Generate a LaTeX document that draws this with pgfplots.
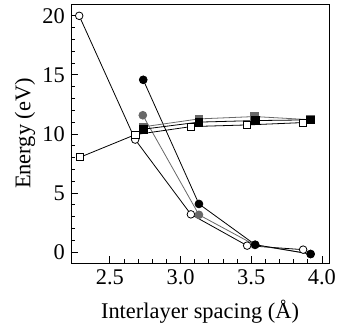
\documentclass[border=0pt]{standalone}
\usepackage{fontspec}
\setmainfont{Liberation Serif}
\usepackage{pgfplots}
\pgfplotsset{compat=1.18}
\definecolor{mgray}{HTML}{686868}
\begin{document}
\fontsize{22.5}{27}\selectfont
\begin{tikzpicture}
\begin{axis}[
  name=ax,
  scale only axis, width=258bp, height=259bp,
  xmin=2.225, xmax=4.05, ymin=-0.93, ymax=21,
  xtick={2.5,3.0,3.5,4.0}, ytick={0,5,10,15,20},
  xticklabels={2.5,3.0,3.5,4.0},
  minor x tick num=4, minor y tick num=4,
  xtick pos=bottom, ytick pos=left, tick align=inside,
  major tick length=7bp, minor tick length=4.5bp,
  tick style={black, line width=0.8pt},
  axis line style={line width=0.9pt},
  /pgf/number format/assume math mode=true,
  ticklabel style={font=\fontsize{22.5}{27}\selectfont},
  yticklabel style={inner sep=2pt, xshift=-4bp},
  xticklabel style={inner sep=2pt, yshift=-4bp},
  label style={font=\fontsize{22.5}{27}\selectfont},
  xlabel={Interlayer spacing (Å)},
  ylabel={Energy (eV)},
  xlabel style={at={(axis description cs:0.5,-0.187)}, anchor=center},
  ylabel style={at={(axis description cs:-0.178,0.5)}, anchor=center},
  every axis plot/.append style={line width=0.8pt},
]
\addplot[black, mark=*, mark size=3.8bp, mark options={fill=white, draw=black}] coordinates {(2.283,20.0) (2.679,9.52) (3.073,3.19) (3.471,0.54) (3.867,0.2)};
\addplot[mgray, mark=*, mark size=3.9bp, mark options={fill=mgray, draw=mgray}] coordinates {(2.733,11.58) (3.13,3.15) (3.525,0.6) (3.92,-0.17)};
\addplot[black, mark=*, mark size=3.9bp, mark options={fill=black}] coordinates {(2.736,14.58) (3.13,4.07) (3.528,0.62) (3.92,-0.17)};
\addplot[black, mark=square*, mark size=3.6bp, mark options={fill=white, draw=black}] coordinates {(2.288,8.02) (2.68,9.94) (3.075,10.62) (3.471,10.76) (3.867,10.96)};
\addplot[mgray, mark=square*, mark size=3.9bp, mark options={fill=mgray, draw=mgray}] coordinates {(2.735,10.6) (3.13,11.27) (3.525,11.47) (3.92,11.2)};
\addplot[black, mark=square*, mark size=3.9bp, mark options={fill=black}] coordinates {(2.736,10.4) (3.13,11.0) (3.528,11.13) (3.92,11.19)};
\end{axis}
\pgfresetboundingbox
\path ([shift={(-71bp,-68bp)}]ax.south west) rectangle ([shift={(10bp,4bp)}]ax.north east);
\end{tikzpicture}
\end{document}
